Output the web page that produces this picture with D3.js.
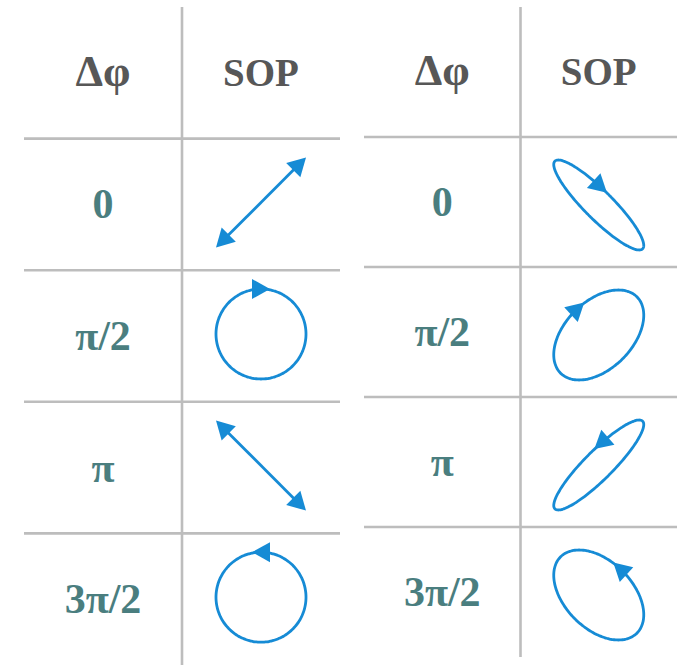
<!DOCTYPE html>
<html>
<head>
<meta charset="utf-8">
<script src="https://cdn.jsdelivr.net/npm/d3@7"></script>
<style>
  html, body { margin: 0; padding: 0; background: #fff; }
  svg { display: block; }
</style>
</head>
<body>
<svg id="chart" width="679" height="665"></svg>
<script>
// ---- data ----
const headers = ["Δφ", "SOP"];
const leftLabels = ["0", "π/2", "π", "3π/2"];
const leftPhaseDeg = [0, 90, 180, 270];        // phase between Ey and Ex that shapes the SOP
const leftArrowT = [null, -90, null, 90];       // where the rotation arrow sits (deg of t)
const rightLabels = ["0", "π/2", "π", "3π/2"];
const rightPhaseDeg = [154, 64, -26, -116];
const rightArrowT = [-88, -118, 87, 62];

// ---- style ----
const gridColor = "#bdbdbd";
const headColor = "#575757";
const valColor = "#4a7e7f";
const blue = "#168bd5";
const fontFam = "'Liberation Serif','Times New Roman',serif";
const amp = 45, headLen = 18, headW = 20, sw = 2.8;

const svg = d3.select("#chart");
const rad = d => d * Math.PI / 180;

function arrowHead(g, tipX, tipY, dx, dy) {
  const n = Math.hypot(dx, dy); dx /= n; dy /= n;
  const bx = tipX - dx * headLen, by = tipY - dy * headLen;
  const px = -dy * headW / 2, py = dx * headW / 2;
  g.append("path")
    .attr("d", `M${tipX},${tipY}L${bx + px},${by + py}L${bx - px},${by - py}Z`)
    .attr("fill", blue);
}

function drawTable(opt) {
  const g = svg.append("g");
  const rows = ["__head"].concat(opt.labels);
  const y = d3.scaleBand().domain(rows).range([opt.y0, opt.y1]);
  const x = d3.scaleBand().domain([0, 1]).range([opt.x0, opt.x1]);

  // grid
  g.append("line").attr("x1", x(1)).attr("x2", x(1))
    .attr("y1", opt.y0).attr("y2", opt.y1)
    .attr("stroke", gridColor).attr("stroke-width", 2.6);
  g.selectAll("line.h").data(opt.labels).join("line").attr("class", "h")
    .attr("x1", opt.x0).attr("x2", opt.x1)
    .attr("y1", d => y(d)).attr("y2", d => y(d))
    .attr("stroke", gridColor).attr("stroke-width", 2.6);

  // header
  g.selectAll("text.hd").data(headers).join("text").attr("class", "hd")
    .attr("x", (d, i) => x(i) + x.bandwidth() / 2)
    .attr("y", y("__head") + y.bandwidth() / 2 + 13)
    .attr("text-anchor", "middle")
    .attr("font-family", fontFam).attr("font-weight", "bold")
    .attr("font-size", (d, i) => i === 0 ? 44 : 39)
    .attr("fill", headColor)
    .text(d => d);

  // labels
  g.selectAll("text.val").data(opt.labels).join("text").attr("class", "val")
    .attr("x", x(0) + x.bandwidth() / 2)
    .attr("y", d => y(d) + y.bandwidth() / 2 + 14)
    .attr("text-anchor", "middle")
    .attr("font-family", fontFam).attr("font-weight", "bold")
    .attr("font-size", 42)
    .attr("fill", valColor)
    .text(d => d);

  // SOP drawings
  opt.labels.forEach((lab, i) => {
    const cx = x(1) + x.bandwidth() / 2;
    const cy = y(lab) + y.bandwidth() / 2 + opt.dy;
    const sx = d3.scaleLinear().domain([-1, 1]).range([cx - amp, cx + amp]);
    const sy = d3.scaleLinear().domain([-1, 1]).range([cy + amp, cy - amp]);
    const phi = rad(opt.phases[i]);
    const sg = g.append("g");
    if (Math.abs(Math.sin(phi)) < 1e-6) {
      // linear polarization: double-headed arrow
      const s = Math.cos(phi) > 0 ? 1 : -1;
      const x1 = sx(1), y1 = sy(s), x2 = sx(-1), y2 = sy(-s);
      const dx = x1 - x2, dy = y1 - y2, n = Math.hypot(dx, dy);
      const ux = dx / n, uy = dy / n;
      sg.append("line")
        .attr("x1", x2 + ux * headLen * 0.6).attr("y1", y2 + uy * headLen * 0.6)
        .attr("x2", x1 - ux * headLen * 0.6).attr("y2", y1 - uy * headLen * 0.6)
        .attr("stroke", blue).attr("stroke-width", sw);
      arrowHead(sg, x1, y1, ux, uy);
      arrowHead(sg, x2, y2, -ux, -uy);
    } else {
      const ts = d3.range(0, 360, 2).map(rad);
      const line = d3.line()
        .x(t => sx(Math.cos(t)))
        .y(t => sy(Math.cos(t + phi)))
        .curve(d3.curveCardinalClosed);
      sg.append("path").attr("d", line(ts))
        .attr("fill", "none").attr("stroke", blue).attr("stroke-width", sw);
      const t = rad(opt.arrowT[i]);
      const px = sx(Math.cos(t)), py = sy(Math.cos(t + phi));
      const dx = sx(Math.cos(t + 0.01)) - sx(Math.cos(t - 0.01));
      const dy = sy(Math.cos(t + 0.01 + phi)) - sy(Math.cos(t - 0.01 + phi));
      const n = Math.hypot(dx, dy);
      arrowHead(sg, px + dx / n * headLen / 2, py + dy / n * headLen / 2, dx, dy);
    }
  });
}

drawTable({ x0: 24, x1: 340, y0: 7, y1: 665, labels: leftLabels,
            phases: leftPhaseDeg, arrowT: leftArrowT, dy: -2 });
drawTable({ x0: 364, x1: 677, y0: 7, y1: 657, labels: rightLabels,
            phases: rightPhaseDeg, arrowT: rightArrowT, dy: 3 });
</script>
</body>
</html>
